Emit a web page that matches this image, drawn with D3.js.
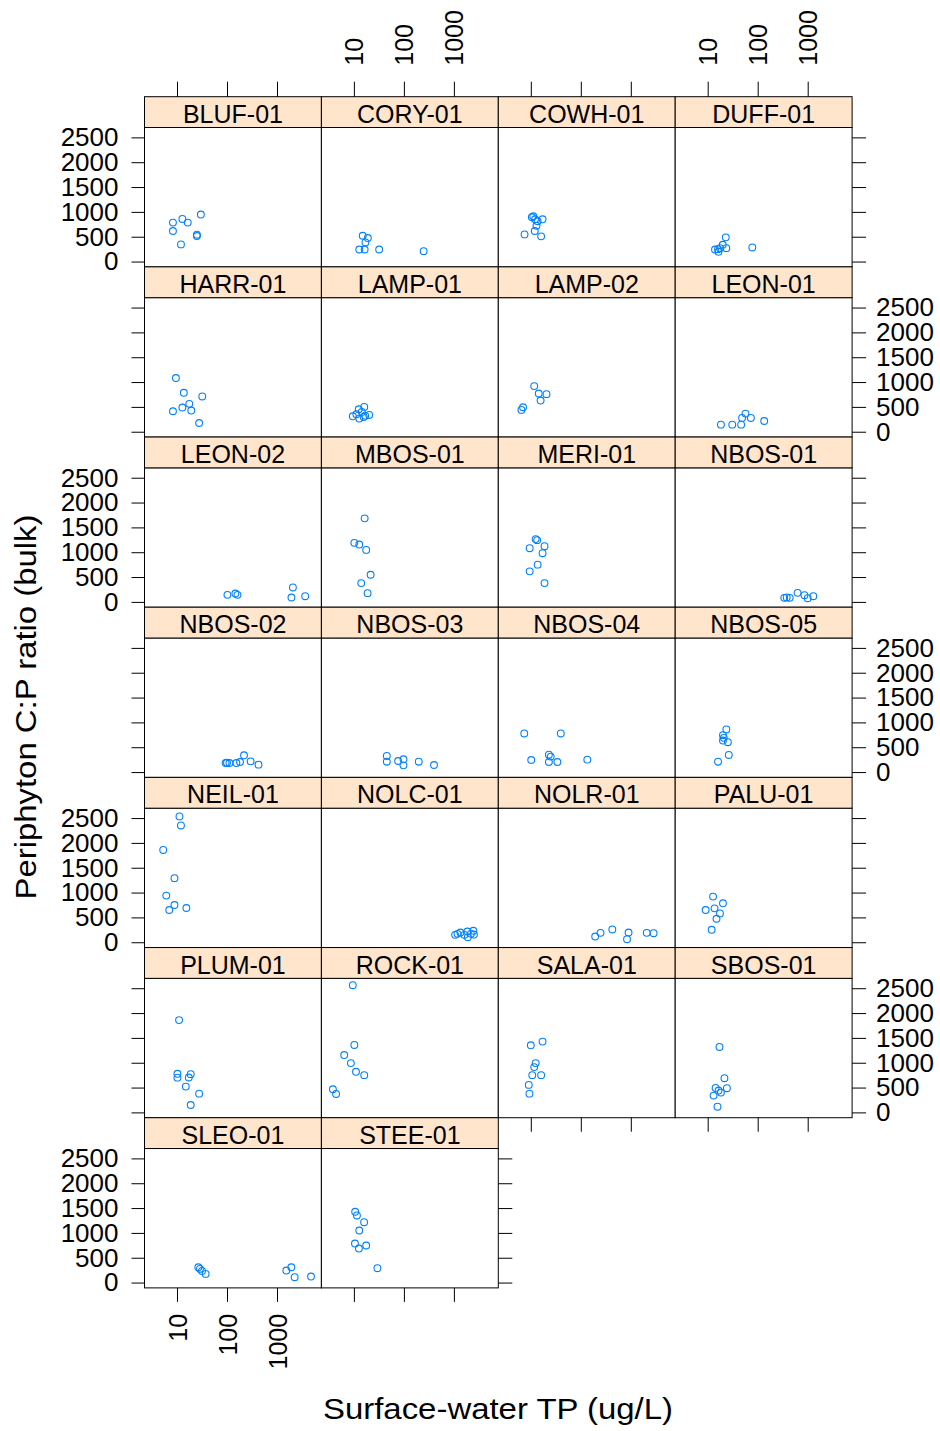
<!DOCTYPE html>
<html>
<head>
<meta charset="utf-8">
<script src="https://cdn.jsdelivr.net/npm/d3@7"></script>
<style>
  html, body { margin: 0; padding: 0; background: #fff; }
  svg { display: block; }
</style>
</head>
<body>
<script>
// Sampling sites, one panel each (filled left to right, top to bottom)
const sites = [
  "BLUF-01", "CORY-01", "COWH-01", "DUFF-01",
  "HARR-01", "LAMP-01", "LAMP-02", "LEON-01",
  "LEON-02", "MBOS-01", "MERI-01", "NBOS-01",
  "NBOS-02", "NBOS-03", "NBOS-04", "NBOS-05",
  "NEIL-01", "NOLC-01", "NOLR-01", "PALU-01",
  "PLUM-01", "ROCK-01", "SALA-01", "SBOS-01",
  "SLEO-01", "STEE-01"
];

// Surface-water total phosphorus (ug/L), per site
const tpValues = [
  [8.3, 8.3, 12.8, 16.4, 30, 12, 25, 25],
  [15, 19, 17, 12.8, 16.4, 32, 248],
  [10.5, 11.2, 12.2, 13.7, 17.2, 12, 7.5, 16.1, 13],
  [23, 20, 23.6, 17.6, 16.1, 14, 16.4, 78],
  [9.5, 13.7, 32, 17.6, 12.8, 8.3, 19.3, 27.7],
  [9.5, 12.5, 16.1, 14.4, 12.8, 16.8, 20.2, 11.2, 15.7],
  [6.5, 7, 11.7, 14.4, 20.6, 15.7],
  [18.4, 31, 46.6, 48.7, 57, 73, 135],
  [102, 147, 162, 2080, 1945, 3660],
  [16.4, 10.2, 12.8, 17.6, 21.6, 14, 18.8],
  [12.5, 13.4, 9.5, 18.8, 17.2, 13.7, 9.5, 18.8],
  [340, 437, 627, 861, 1000, 1293, 380],
  [94, 112, 154, 182, 219, 297, 427, 100],
  [45.5, 45.5, 76.6, 98, 98, 198, 400],
  [7.4, 39.8, 10.2, 23, 25, 23, 34, 135],
  [23.6, 20.2, 21, 20.2, 25.3, 26.4, 16.1],
  [11.2, 12, 5.3, 8.9, 6.1, 8.9, 7, 15.4],
  [1057, 1180, 1350, 1620, 1860, 1900, 2190, 2450, 2510],
  [194, 248, 427, 841, 901, 2080, 2860],
  [12.8, 20.2, 9.1, 13.7, 17.6, 15, 12],
  [11, 10.2, 10.2, 18.8, 17.2, 15, 27.7, 18.8],
  [9.5, 10.2, 6.4, 8.7, 11, 16.1, 3.8, 4.4],
  [10, 17.2, 12.5, 11.7, 10.7, 16.1, 9.1, 9.4],
  [17.2, 21.6, 14.4, 24.2, 18.4, 13.1, 15.7, 16.5],
  [26.7, 28.8, 31.6, 37.4, 1537, 1935, 2256, 4786],
  [10.6, 11.5, 16, 12.8, 10.5, 12.6, 17.6, 29.5]
];

// Periphyton C:P ratio (bulk), per site
const cpValues = [
  [784, 615, 858, 784, 946, 345, 541, 514],
  [520, 473, 385, 243, 243, 243, 209],
  [892, 912, 851, 811, 851, 615, 547, 507, 720],
  [487, 338, 270, 270, 250, 243, 196, 284],
  [1081, 784, 710, 561, 487, 412, 426, 176],
  [311, 453, 500, 399, 264, 324, 338, 351, 297],
  [439, 493, 919, 770, 757, 628],
  [142, 142, 142, 277, 365, 277, 216],
  [142, 169, 142, 291, 88, 115],
  [1682, 1189, 1155, 1047, 547, 378, 176],
  [1264, 1243, 1081, 1122, 980, 750, 615, 378],
  [81, 81, 182, 135, 74, 115, 90],
  [182, 182, 182, 203, 338, 216, 149, 190],
  [324, 209, 223, 257, 135, 209, 142],
  [777, 777, 243, 351, 311, 203, 203, 250],
  [858, 743, 689, 635, 601, 345, 209],
  [2534, 2351, 1858, 1290, 939, 750, 649, 689],
  [149, 169, 196, 149, 216, 101, 169, 230, 155],
  [115, 189, 257, 61, 196, 189, 182],
  [919, 784, 649, 682, 581, 473, 250],
  [1858, 777, 700, 770, 703, 520, 378, 149],
  [2561, 1358, 1155, 993, 818, 750, 466, 372],
  [1351, 1426, 993, 912, 750, 750, 554, 378],
  [1318, 689, 493, 487, 399, 338, 115, 440],
  [309, 276, 235, 175, 242, 309, 108, 121],
  [1425, 1351, 1216, 1048, 786, 685, 746, 289]
];

// Axis tick values
const xTicks = [10, 100, 1000];
const yTicks = [0, 500, 1000, 1500, 2000, 2500];

const FONT = "'Liberation Sans', Arial, Helvetica, sans-serif";
const W = 940, H = 1431;
const nCol = 4;
const nRow = Math.ceil(sites.length / nCol);

// Panel grid geometry
const gridLeft = 144.5, colW = 176.9;
const gridTop = 96.7, rowH = 170.17, stripH = 30.8;

const xDomain = [Math.pow(10, 0.35), Math.pow(10, 3.888)];
const yDomain = [-107, 2699];

const svg = d3.select("body").append("svg")
  .attr("width", W).attr("height", H)
  .attr("font-family", FONT);

svg.append("rect").attr("width", W).attr("height", H).attr("fill", "#fff");

function cleanAxis(g, showLabels, fontSize) {
  g.attr("font-family", FONT);
  g.select(".domain").remove();
  g.selectAll(".tick line").attr("stroke", "#000").attr("stroke-width", 1);
  if (!showLabels) {
    g.selectAll(".tick text").remove();
  } else {
    g.selectAll(".tick text").attr("fill", "#000").attr("font-size", fontSize);
  }
}

sites.forEach((name, i) => {
  const r = Math.floor(i / nCol), c = i % nCol;
  const x0 = gridLeft + c * colW, x1 = x0 + colW;
  const stripTop = gridTop + r * rowH;
  const py0 = stripTop + stripH, py1 = stripTop + rowH;

  const xs = d3.scaleLog().domain(xDomain).range([x0, x1]);
  const ys = d3.scaleLinear().domain(yDomain).range([py1, py0]);

  const g = svg.append("g").attr("class", "panel");

  // panel box
  g.append("rect")
    .attr("x", x0).attr("y", py0)
    .attr("width", colW).attr("height", py1 - py0)
    .attr("fill", "#fff").attr("stroke", "#000").attr("stroke-width", 1);

  // strip
  g.append("rect")
    .attr("x", x0).attr("y", stripTop)
    .attr("width", colW).attr("height", stripH)
    .attr("fill", "#ffe5cc").attr("stroke", "#000").attr("stroke-width", 1);
  g.append("text")
    .attr("x", (x0 + x1) / 2).attr("y", stripTop + 26)
    .attr("text-anchor", "middle")
    .attr("font-size", 25)
    .attr("fill", "#000")
    .text(name);

  // points
  const pts = d3.zip(tpValues[i], cpValues[i]);
  g.append("g").selectAll("circle").data(pts).join("circle")
    .attr("cx", d => xs(d[0]))
    .attr("cy", d => ys(d[1]))
    .attr("r", 3.4)
    .attr("fill", "none")
    .attr("stroke", "#0080ff")
    .attr("stroke-width", 1.1);

  // left axis (first column), labels on alternating rows
  if (c === 0) {
    const ax = g.append("g").attr("transform", `translate(${x0},0)`)
      .call(d3.axisLeft(ys).tickValues(yTicks).tickSize(13).tickPadding(13).tickFormat(d3.format("d")));
    cleanAxis(ax, r % 2 === 0, 26);
  }

  // right axis (last panel in the row), labels on the other rows
  const lastInRow = (c === nCol - 1) || (i === sites.length - 1);
  if (lastInRow) {
    const ax = g.append("g").attr("transform", `translate(${x1},0)`)
      .call(d3.axisRight(ys).tickValues(yTicks).tickSize(14).tickPadding(10).tickFormat(d3.format("d")));
    cleanAxis(ax, r % 2 === 1, 26);
  }

  // top axis above strips of the first row
  if (r === 0) {
    const ax = g.append("g").attr("transform", `translate(0,${stripTop})`)
      .call(d3.axisTop(xs).tickValues(xTicks).tickSize(15).tickFormat(d3.format("d")));
    cleanAxis(ax, c % 2 === 1, 25);
    ax.selectAll(".tick text")
      .attr("x", 0).attr("y", 0).attr("dy", "0.36em")
      .attr("text-anchor", "start")
      .attr("transform", "translate(0,-31) rotate(-90)");
  }

  // bottom axis under the lowest panel of each column
  const below = i + nCol;
  if (below >= sites.length) {
    const ax = g.append("g").attr("transform", `translate(0,${py1})`)
      .call(d3.axisBottom(xs).tickValues(xTicks).tickSize(14).tickFormat(d3.format("d")));
    cleanAxis(ax, r === nRow - 1 && c % 2 === 0, 25);
    ax.selectAll(".tick text")
      .attr("x", 0).attr("y", 0).attr("dy", "0.36em")
      .attr("text-anchor", "end")
      .attr("transform", "translate(0,26) rotate(-90)");
  }
});

// axis titles
svg.append("text")
  .attr("transform", "translate(36,707) rotate(-90)")
  .attr("text-anchor", "middle")
  .attr("font-size", 30)
  .attr("textLength", 385)
  .attr("lengthAdjust", "spacingAndGlyphs")
  .attr("fill", "#000")
  .text("Periphyton C:P ratio (bulk)");

svg.append("text")
  .attr("x", 498).attr("y", 1419)
  .attr("text-anchor", "middle")
  .attr("font-size", 30)
  .attr("textLength", 350)
  .attr("lengthAdjust", "spacingAndGlyphs")
  .attr("fill", "#000")
  .text("Surface-water TP (ug/L)");
</script>
</body>
</html>
